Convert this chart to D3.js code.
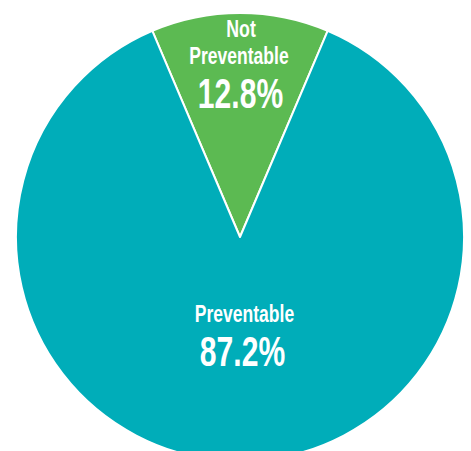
<!DOCTYPE html>
<html><head><meta charset="utf-8">
<script src="https://cdn.jsdelivr.net/npm/d3@7"></script>
<style>html,body{margin:0;padding:0;background:#fff;overflow:hidden}
text{font-family:"Liberation Sans",Arial,sans-serif;font-weight:bold;fill:#fff}</style>
</head><body>
<svg id="c" width="471" height="451"></svg>
<script>
const categories = ["Not Preventable", "Preventable"];
const values = [12.8, 87.2];
const labels = [["Not", "Preventable"], ["Preventable"]];
const pctLabels = ["12.8%", "87.2%"];
const colors = ["#5CBA52", "#00ADB9"];

const svg = d3.select("#c");
const cx = 240, cy = 237, R = 224;
const g = svg.append("g").attr("transform", `translate(${cx},${cy})`);
const total = d3.sum(values);
const half = values[0] / total * Math.PI;
const pie = d3.pie().sort(null).startAngle(-half).endAngle(2 * Math.PI - half);
const arcs = pie(values);
const arc = d3.arc().innerRadius(0).outerRadius(R);
g.selectAll("path").data(arcs).join("path")
  .attr("d", arc).attr("fill", (d, i) => colors[i])
  .attr("stroke", "#fff").attr("stroke-width", 2).attr("stroke-linejoin", "round");

function label(txt, x, y, size, sx) {
  g.append("text").attr("text-anchor", "middle")
    .attr("transform", `translate(${x - cx},${y - cy}) scale(${sx},1)`)
    .style("font-size", size + "px").text(txt);
}
label(labels[0][0], 241, 37, 24, 0.74);
label(labels[0][1], 239, 64, 24, 0.73);
label(pctLabels[0], 240.5, 108, 43, 0.70);
label(labels[1][0], 244.5, 322, 24, 0.73);
label(pctLabels[1], 242.5, 366, 43, 0.70);
</script>
</body></html>
